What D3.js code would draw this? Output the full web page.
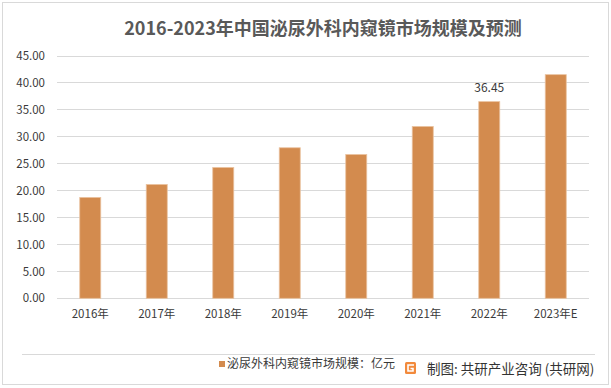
<!DOCTYPE html>
<html>
<head>
<meta charset="utf-8">
<script src="https://cdn.jsdelivr.net/npm/d3@7"></script>
<style>
  html, body { margin: 0; padding: 0; background: #fff; }
  svg { display: block; font-family: 'Noto Sans CJK SC', 'Noto Sans', sans-serif; }
</style>
</head>
<body>
<script>
// data
const years = ['2016年', '2017年', '2018年', '2019年', '2020年', '2021年', '2022年', '2023年E']
const market = [18.7, 21.1, 24.25, 27.9, 26.65, 31.85, 36.45, 41.45]
const labelled = ['2022年']
const y_ticks = [0, 5, 10, 15, 20, 25, 30, 35, 40, 45]

const title = '2016-2023年中国泌尿外科内窥镜市场规模及预测'
const legend_text = '泌尿外科内窥镜市场规模：亿元'
const source_text = '制图: 共研产业咨询 (共研网)'

const width = 611
const height = 388
const margin = {top: 55.5, right: 22, bottom: 90, left: 57}
const bar_color = '#d38b4e'
const text_color = '#3a3a3a'

const rows = years.map((year, i) => ({year, value: market[i]}))

const svg = d3.select('body').append('svg')
  .attr('width', width)
  .attr('height', height)
  .attr('viewBox', `0 0 ${width} ${height}`)

// outer frame
svg.append('rect')
  .attr('x', 2.5).attr('y', 2.5)
  .attr('width', width - 5).attr('height', height - 6)
  .attr('fill', '#fff')
  .attr('stroke', '#d9d9d9')

svg.append('text')
  .attr('x', 323)
  .attr('y', 35)
  .attr('text-anchor', 'middle')
  .attr('font-size', 18)
  .attr('font-weight', 'bold')
  .attr('fill', '#595959')
  .text(title)

const x = d3.scaleBand()
  .domain(years)
  .range([margin.left, width - margin.right])
  .paddingInner(0.684)
  .paddingOuter(0.342)

const y = d3.scaleLinear()
  .domain([0, 45])
  .range([298.3, margin.top])

// grid lines
svg.append('g')
  .selectAll('line')
  .data(y_ticks)
  .join('line')
    .attr('x1', margin.left)
    .attr('x2', width - margin.right)
    .attr('y1', d => Math.round(y(d)) + 0.5)
    .attr('y2', d => Math.round(y(d)) + 0.5)
    .attr('stroke', '#d9d9d9')

// y axis labels
const y_axis = svg.append('g')
  .attr('transform', `translate(${margin.left - 12}, 0)`)
  .call(d3.axisLeft(y).tickValues(y_ticks).tickFormat(d3.format('.2f')).tickSize(0).tickPadding(0))
y_axis.select('.domain').remove()
y_axis.selectAll('text')
  .attr('font-size', 11.5)
  .attr('fill', text_color)
  .attr('font-family', 'Noto Sans CJK SC, sans-serif')

// x axis labels
const x_axis = svg.append('g')
  .attr('transform', `translate(0, ${y(0)})`)
  .call(d3.axisBottom(x).tickSize(0).tickPadding(12))
x_axis.select('.domain').remove()
x_axis.selectAll('text')
  .attr('font-size', 11.5)
  .attr('fill', text_color)
  .attr('font-family', 'Noto Sans CJK SC, sans-serif')

// bars
svg.append('g')
  .selectAll('rect')
  .data(rows)
  .join('rect')
    .attr('x', d => x(d.year))
    .attr('y', d => y(d.value))
    .attr('width', x.bandwidth())
    .attr('height', d => y(0) - y(d.value))
    .attr('fill', bar_color)
    .attr('stroke', '#eac3a0')
    .attr('stroke-width', 0.8)

// value label
svg.append('g')
  .selectAll('text')
  .data(rows.filter(d => labelled.includes(d.year)))
  .join('text')
    .attr('x', d => x(d.year) + x.bandwidth() / 2)
    .attr('y', d => y(d.value) - 10)
    .attr('text-anchor', 'middle')
    .attr('font-size', 12)
    .attr('fill', text_color)
    .text(d => d.value.toFixed(2))

// legend separator
svg.append('line')
  .attr('x1', 22).attr('x2', 595)
  .attr('y1', 354.5).attr('y2', 354.5)
  .attr('stroke', '#d9d9d9')

// legend
svg.append('rect')
  .attr('x', 219).attr('y', 361)
  .attr('width', 6).attr('height', 6)
  .attr('fill', bar_color)

svg.append('text')
  .attr('x', 227)
  .attr('y', 368)
  .attr('font-size', 12)
  .attr('fill', text_color)
  .text(legend_text)

// source logo
const logo = svg.append('g').attr('transform', 'translate(405, 362)')
logo.append('rect')
  .attr('width', 11).attr('height', 12).attr('rx', 1.5)
  .attr('fill', '#f28a3c')
logo.append('path')
  .attr('d', 'M9,3 H3 V9 H8 V6.5 H5.5')
  .attr('fill', 'none')
  .attr('stroke', '#fff')
  .attr('stroke-width', 1.6)

svg.append('text')
  .attr('x', 427)
  .attr('y', 374)
  .attr('font-size', 13.5)
  .attr('fill', '#333')
  .text(source_text)
</script>
</body>
</html>
